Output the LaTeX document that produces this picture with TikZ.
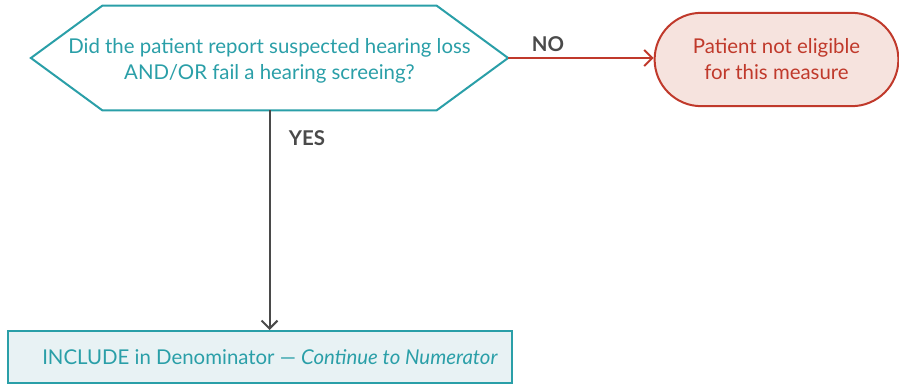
\documentclass[tikz,border=0pt]{standalone}
\usepackage{fontspec}
\setmainfont{Lato}
\usepackage{tikz}
\usetikzlibrary{arrows.meta,shapes.misc}

\definecolor{flowteal}{HTML}{2A9FA8}
\definecolor{flowred}{HTML}{C0392B}
\definecolor{flowpink}{HTML}{F6E3DE}
\definecolor{flowblue}{HTML}{E8F2F4}
\definecolor{flowgray}{HTML}{4A4A4A}

\begin{document}
\begin{tikzpicture}[x=0.75pt, y=-0.75pt,
		every node/.style={font=\fontsize{15.3}{19.5}\selectfont},
		question/.style={text=flowteal, align=center, minimum width=250.5pt, minimum height=78pt, inner sep=0pt},
		hexline/.style={draw=flowteal, line width=1.5pt, fill=white, line join=miter},
		notelig/.style={rounded rectangle, draw=flowred, fill=flowpink, line width=1.5pt, text=flowred, align=center, minimum width=189.5pt, minimum height=70pt},
		include/.style={rectangle, draw=flowteal, fill=flowblue, line width=1.5pt, text=flowteal, minimum width=378pt, minimum height=39pt},
		answer/.style={text=flowgray, font=\fontsize{15.3}{18}\selectfont\bfseries},
		noarrow/.style={draw=flowred, line width=1.5pt, -{Straight Barb[length=6pt, width=12pt]}},
		yesarrow/.style={draw=flowgray, line width=1.5pt, -{Straight Barb[length=6pt, width=12pt]}}]
		\useasboundingbox (0,0) rectangle (899,385);

		% decision
		\node[question] (question) at (269.5,58) {};
		\coordinate (qleft) at ([xshift=-53.5pt]question.west);
		\coordinate (qright) at ([xshift=53.5pt]question.east);
		\draw[hexline] (question.north west) -- (question.north east) -- (qright)
			-- (question.south east) -- (question.south west) -- (qleft) -- cycle;
		\node[question] at ([yshift=-2.5pt]question.center) {Did the patient report suspected hearing loss\\AND/OR fail a hearing screeing?};

		% outcomes
		\node[notelig] (notelig) at (776.5,59.5) {Patient not eligible\\for this measure};
		\node[include] (include) at (260,357) {\hspace*{15pt}INCLUDE in Denominator --- \textit{Continue to Numerator}};

		% connectors
		\draw[noarrow] (qright) -- (qright -| notelig.west);
		\draw[yesarrow] (question.south) -- (question.south |- include.north);

		\node[answer] (no) at (548,44) {NO};
		\node[answer] (yes) at (307,138) {YES};

\end{tikzpicture}
\end{document}
